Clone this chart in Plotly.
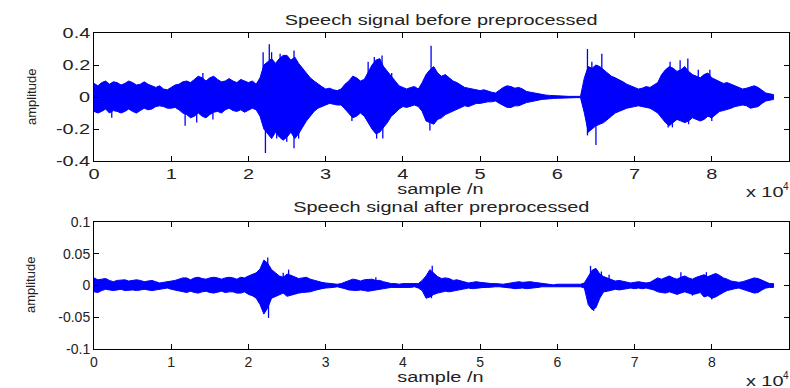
import plotly.graph_objects as go

# ---------------- data ----------------
# envelope read every 1000 samples, plus readings half-way between (k*1000+500)
sample_k = list(range(0, 89000, 1000))

upper_before = [0.085, 0.09, 0.08, 0.09, 0.085, 0.09, 0.08, 0.08, 0.06, 0.05,
                0.06, 0.08, 0.10, 0.11, 0.12, 0.12, 0.11, 0.10, 0.10, 0.11,
                0.09, 0.08, 0.20, 0.24, 0.24, 0.26, 0.25, 0.18, 0.12, 0.08,
                0.05, 0.045, 0.05, 0.10, 0.12, 0.11, 0.20, 0.24, 0.16, 0.10,
                0.06, 0.06, 0.05, 0.14, 0.19, 0.13, 0.12, 0.09, 0.06, 0.05,
                0.04, 0.035, 0.025, 0.06, 0.065, 0.06, 0.035, 0.025, 0.015, 0.01,
                0.008, 0.005, 0.004, 0.004, 0.19, 0.20, 0.17, 0.13, 0.11, 0.08,
                0.06, 0.055, 0.06, 0.09, 0.17, 0.18, 0.17, 0.16, 0.13, 0.14,
                0.12, 0.10, 0.09, 0.07, 0.05, 0.065, 0.06, 0.025, 0.015]
upper_before_mid = [0.07, 0.10, 0.095, 0.075, 0.10, 0.075, 0.095, 0.07, 0.07, 0.045,
                    0.075, 0.095, 0.09, 0.13, 0.10, 0.13, 0.095, 0.115, 0.09, 0.10,
                    0.10, 0.12, 0.22, 0.21, 0.26, 0.23, 0.21, 0.15, 0.10, 0.065,
                    0.055, 0.04, 0.08, 0.13, 0.10, 0.16, 0.23, 0.19, 0.13, 0.07,
                    0.05, 0.065, 0.09, 0.17, 0.15, 0.14, 0.10, 0.075, 0.055, 0.045,
                    0.045, 0.03, 0.045, 0.07, 0.055, 0.05, 0.03, 0.02, 0.012, 0.008,
                    0.006, 0.004, 0.004, 0.12, 0.18, 0.19, 0.15, 0.12, 0.095, 0.07,
                    0.05, 0.065, 0.075, 0.14, 0.19, 0.16, 0.19, 0.14, 0.12, 0.15,
                    0.11, 0.085, 0.08, 0.06, 0.055, 0.07, 0.04, 0.02]
lower_before = [-0.09, -0.09, -0.10, -0.09, -0.09, -0.09, -0.085, -0.08, -0.06, -0.06,
                -0.07, -0.08, -0.11, -0.12, -0.12, -0.11, -0.09, -0.08, -0.085, -0.08,
                -0.08, -0.08, -0.20, -0.26, -0.25, -0.25, -0.26, -0.19, -0.12, -0.07,
                -0.05, -0.045, -0.05, -0.10, -0.12, -0.12, -0.20, -0.22, -0.16, -0.10,
                -0.06, -0.06, -0.06, -0.15, -0.17, -0.13, -0.10, -0.08, -0.055, -0.05,
                -0.04, -0.03, -0.025, -0.055, -0.065, -0.055, -0.035, -0.025, -0.015, -0.01,
                -0.008, -0.005, -0.004, -0.004, -0.22, -0.18, -0.16, -0.12, -0.09, -0.07,
                -0.06, -0.06, -0.07, -0.10, -0.16, -0.16, -0.15, -0.15, -0.14, -0.14,
                -0.13, -0.09, -0.08, -0.06, -0.05, -0.07, -0.06, -0.025, -0.015]
lower_before_mid = [-0.10, -0.075, -0.085, -0.10, -0.075, -0.10, -0.07, -0.075, -0.055, -0.07,
                    -0.065, -0.10, -0.13, -0.10, -0.13, -0.095, -0.10, -0.07, -0.09, -0.095,
                    -0.07, -0.12, -0.23, -0.22, -0.27, -0.22, -0.23, -0.15, -0.09, -0.06,
                    -0.04, -0.05, -0.075, -0.13, -0.10, -0.16, -0.23, -0.19, -0.12, -0.075,
                    -0.065, -0.05, -0.09, -0.16, -0.14, -0.11, -0.09, -0.065, -0.06, -0.04,
                    -0.035, -0.03, -0.04, -0.065, -0.055, -0.045, -0.03, -0.02, -0.012, -0.009,
                    -0.006, -0.004, -0.004, -0.10, -0.20, -0.17, -0.14, -0.10, -0.08, -0.065,
                    -0.055, -0.065, -0.085, -0.13, -0.18, -0.14, -0.16, -0.13, -0.15, -0.12,
                    -0.11, -0.085, -0.07, -0.055, -0.055, -0.065, -0.04, -0.02]

spike_before_n = [2300, 11800, 13300, 14100, 15400, 21900, 22200, 22700, 23000, 23660,
                  24100, 24960, 25900, 25900, 26500, 33400, 35500, 36300, 36600, 37300,
                  37400, 38550, 43500, 43650, 63900, 63900, 64470, 65000, 65760, 74350,
                  74600, 74900, 75900, 76900, 77000, 78250, 79750, 80000]
spike_before_v = [-0.13, -0.18, -0.16, 0.15, -0.14, 0.28, -0.35, 0.33, 0.28, -0.26,
                  0.27, -0.28, 0.29, -0.32, -0.26, -0.15, 0.22, 0.25, -0.26, 0.26,
                  -0.26, 0.15, -0.21, 0.32, 0.30, -0.24, 0.22, -0.30, 0.27, -0.19,
                  0.22, -0.19, 0.23, 0.24, -0.17, 0.17, 0.17, -0.15]

upper_after = [0.012, 0.010, 0.008, 0.008, 0.009, 0.008, 0.008, 0.007, 0.006, 0.005,
               0.006, 0.010, 0.012, 0.012, 0.011, 0.012, 0.012, 0.012, 0.012, 0.013,
               0.015, 0.020, 0.040, 0.025, 0.015, 0.018, 0.014, 0.012, 0.010, 0.006,
               0.004, 0.003, 0.003, 0.007, 0.009, 0.009, 0.010, 0.008, 0.004, 0.003,
               0.003, 0.003, 0.003, 0.015, 0.020, 0.011, 0.011, 0.009, 0.005, 0.005,
               0.005, 0.004, 0.003, 0.002, 0.004, 0.006, 0.006, 0.005, 0.003, 0.002,
               0.002, 0.002, 0.002, 0.002, 0.015, 0.027, 0.014, 0.010, 0.008, 0.006,
               0.005, 0.005, 0.005, 0.012, 0.013, 0.012, 0.013, 0.012, 0.013, 0.017,
               0.017, 0.016, 0.010, 0.006, 0.006, 0.010, 0.011, 0.005, 0.003]
upper_after_mid = [0.009, 0.011, 0.006, 0.009, 0.007, 0.009, 0.006, 0.008, 0.004, 0.006,
                   0.008, 0.012, 0.009, 0.013, 0.010, 0.013, 0.010, 0.013, 0.010, 0.012,
                   0.017, 0.026, 0.035, 0.020, 0.013, 0.016, 0.011, 0.013, 0.008, 0.005,
                   0.003, 0.002, 0.005, 0.010, 0.007, 0.010, 0.008, 0.006, 0.003, 0.002,
                   0.003, 0.002, 0.008, 0.025, 0.014, 0.012, 0.008, 0.007, 0.004, 0.006,
                   0.004, 0.003, 0.002, 0.003, 0.006, 0.005, 0.006, 0.004, 0.002, 0.001,
                   0.002, 0.001, 0.002, 0.004, 0.024, 0.018, 0.012, 0.007, 0.007, 0.004,
                   0.006, 0.004, 0.008, 0.010, 0.015, 0.010, 0.015, 0.010, 0.015, 0.014,
                   0.019, 0.012, 0.007, 0.005, 0.008, 0.012, 0.008, 0.003]
lower_after = [-0.010, -0.008, -0.007, -0.007, -0.008, -0.007, -0.007, -0.007, -0.006, -0.005,
               -0.006, -0.009, -0.011, -0.011, -0.010, -0.011, -0.011, -0.011, -0.010, -0.012,
               -0.014, -0.020, -0.045, -0.020, -0.015, -0.017, -0.014, -0.011, -0.010, -0.006,
               -0.004, -0.003, -0.003, -0.007, -0.008, -0.008, -0.008, -0.007, -0.004, -0.003,
               -0.003, -0.003, -0.004, -0.020, -0.014, -0.010, -0.010, -0.008, -0.005, -0.005,
               -0.004, -0.003, -0.002, -0.002, -0.004, -0.005, -0.005, -0.004, -0.002, -0.002,
               -0.002, -0.002, -0.002, -0.002, -0.030, -0.035, -0.010, -0.008, -0.007, -0.005,
               -0.005, -0.005, -0.005, -0.010, -0.012, -0.012, -0.012, -0.012, -0.013, -0.018,
               -0.020, -0.015, -0.008, -0.005, -0.005, -0.010, -0.011, -0.004, -0.003]
lower_after_mid = [-0.011, -0.006, -0.008, -0.006, -0.007, -0.008, -0.006, -0.008, -0.005, -0.004,
                   -0.007, -0.010, -0.009, -0.012, -0.009, -0.012, -0.009, -0.010, -0.012, -0.010,
                   -0.016, -0.030, -0.035, -0.017, -0.012, -0.015, -0.012, -0.010, -0.008, -0.005,
                   -0.003, -0.002, -0.005, -0.008, -0.007, -0.009, -0.007, -0.005, -0.003, -0.002,
                   -0.003, -0.002, -0.008, -0.018, -0.012, -0.009, -0.009, -0.006, -0.004, -0.004,
                   -0.003, -0.003, -0.002, -0.003, -0.005, -0.004, -0.005, -0.003, -0.002, -0.001,
                   -0.002, -0.001, -0.002, -0.004, -0.038, -0.020, -0.009, -0.006, -0.006, -0.004,
                   -0.004, -0.004, -0.007, -0.011, -0.010, -0.014, -0.010, -0.014, -0.011, -0.016,
                   -0.018, -0.011, -0.006, -0.004, -0.008, -0.012, -0.007, -0.003]

spike_after_n = [22500, 22600, 24500, 25200, 36500, 43700, 43800, 64300, 64700, 65700,
                 66700, 76000, 77500, 79300, 80000]
spike_after_v = [0.044, -0.051, 0.020, 0.025, 0.013, -0.020, 0.031, 0.031, -0.040, 0.022,
                 0.017, 0.021, -0.016, 0.021, -0.022]

x_tickvals = [0, 10000, 20000, 30000, 40000, 50000, 60000, 70000, 80000, 90000]
x_ticktext = ["0", "1", "2", "3", "4", "5", "6", "7", "8", "9"]
y1_tickvals = [-0.4, -0.2, 0, 0.2, 0.4]
y1_ticktext = ["-0.4", "-0.2", "0", "0.2", "0.4"]
y2_tickvals = [-0.1, -0.05, 0, 0.05, 0.1]
y2_ticktext = ["-0.1", "-0.05", "0", "0.05", "0.1"]

title_before = "Speech signal before preprocessed"
title_after = "Speech signal after preprocessed"
x_label = "sample /n"
y_label = "amplitude"

# ---------------- figure ----------------
W, H = 790, 388
BLUE = "#0000ff"
FONT = "Liberation Sans, Arial, sans-serif"
TEXT = "#222222"


def px(x):
    return x / W


def py(y):
    return 1 - y / H


def merge(main, mid):
    """Interleave the whole-thousand readings with the half-way readings."""
    xs, ys = [], []
    for i, v in enumerate(main):
        xs.append(sample_k[i])
        ys.append(v)
        if i < len(mid):
            xs.append(sample_k[i] + 500)
            ys.append(mid[i])
    return xs, ys


def spikes(ns, vs):
    xs, ys = [], []
    for n, v in zip(ns, vs):
        xs += [n, n, None]
        ys += [0, v, None]
    return xs, ys


fig = go.Figure()
for (up, upm, lo, lom, sn, sv, xa, ya) in [
    (upper_before, upper_before_mid, lower_before, lower_before_mid,
     spike_before_n, spike_before_v, "x", "y"),
    (upper_after, upper_after_mid, lower_after, lower_after_mid,
     spike_after_n, spike_after_v, "x2", "y2"),
]:
    ux, uy = merge(up, upm)
    lx, ly = merge(lo, lom)
    fig.add_trace(go.Scatter(
        x=ux + lx[::-1], y=uy + ly[::-1],
        mode="lines", fill="toself", fillcolor=BLUE,
        line=dict(color=BLUE, width=1), xaxis=xa, yaxis=ya,
        hoverinfo="skip", showlegend=False))
    sx, sy = spikes(sn, sv)
    fig.add_trace(go.Scatter(
        x=sx, y=sy, mode="lines", line=dict(color=BLUE, width=1.3),
        xaxis=xa, yaxis=ya, hoverinfo="skip", showlegend=False))

axis_common = dict(
    showline=True, linecolor="black", linewidth=1, mirror="ticks",
    ticks="inside", ticklen=5, tickwidth=1, tickcolor="black",
    showgrid=False, zeroline=False, automargin=False,
    tickfont=dict(family=FONT, size=14, color=TEXT),
)

xdom = [px(94), px(789)]
fig.update_layout(
    width=W, height=H, margin=dict(l=0, r=0, t=0, b=0),
    paper_bgcolor="white", plot_bgcolor="white", template=None,
    xaxis=dict(domain=xdom, range=[0, 90000], tickmode="array",
               tickvals=x_tickvals, ticktext=x_ticktext, anchor="y", **axis_common),
    yaxis=dict(domain=[py(161), py(33)], range=[-0.4, 0.4], tickmode="array",
               tickvals=y1_tickvals, ticktext=y1_ticktext, anchor="x", **axis_common),
    xaxis2=dict(domain=xdom, range=[0, 90000], tickmode="array",
                tickvals=x_tickvals, ticktext=x_ticktext, anchor="y2", **axis_common),
    yaxis2=dict(domain=[py(349), py(222)], range=[-0.1, 0.1], tickmode="array",
                tickvals=y2_tickvals, ticktext=y2_ticktext, anchor="x2", **axis_common),
)


def ann(text, x, y, size=14, xanchor="center", align="center", angle=0):
    fig.add_annotation(text=text, x=px(x), y=py(y), xref="paper", yref="paper",
                       xanchor=xanchor, yanchor="middle", align=align,
                       showarrow=False, textangle=angle,
                       font=dict(family=FONT, size=size, color=TEXT))


ann(title_before, 441, 20)
ann(x_label, 440, 188.5)
ann("x 10", 786, 192, xanchor="right", align="right")
ann("4", 781, 186, size=10, xanchor="left", align="left")
ann(title_after, 441, 207)
ann(x_label, 440, 377)
ann("x 10", 786, 381, xanchor="right", align="right")
ann("4", 781, 375, size=10, xanchor="left", align="left")
ann(y_label, 31, 97, size=13, angle=-90)
ann(y_label, 30, 285, size=13, angle=-90)

post = """
var gd = document.getElementById('{plot_id}');
var S = 1.42;
function stretch(t){
  var w = t.getComputedTextLength();
  if (w > 0) {
    t.setAttribute('textLength', (w * S).toFixed(1));
    t.setAttribute('lengthAdjust', 'spacingAndGlyphs');
  }
}
gd.querySelectorAll('.xtick text, .ytick text').forEach(stretch);
var keep = ['Speech signal before preprocessed', 'Speech signal after preprocessed', 'sample /n', 'x 10'];
gd.querySelectorAll('text.annotation-text').forEach(function(t){
  if (keep.indexOf(t.textContent) >= 0) stretch(t);
});
"""

fig.write_html("out.html", post_script=post, config={"displayModeBar": False})
